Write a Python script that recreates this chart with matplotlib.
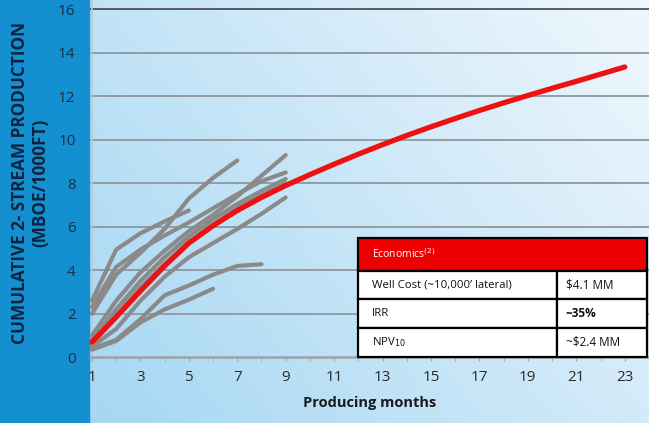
import numpy as np
import matplotlib
matplotlib.use("Agg")
import matplotlib.pyplot as plt
from matplotlib.patches import Rectangle

plt.rcParams["font.family"] = ["Open Sans", "DejaVu Sans"]

# ---------------------------------------------
# data: cumulative 2-stream production, MBOE per 1000 ft
# ---------------------------------------------
type_curve = [0.7, 1.85, 3.05, 4.2, 5.25, 6.05, 6.75, 7.35, 7.9, 8.4, 8.88, 9.34,
              9.78, 10.2, 10.6, 10.98, 11.35, 11.7, 12.04, 12.37, 12.69, 13.02, 13.35]

well_curves = [
    [2.6, 4.95, 5.7, 6.25, 6.75],
    [2.0, 3.8, 4.8, 5.9, 7.3, 8.25, 9.05],
    [2.3, 4.15, 4.95, 5.6, 6.2, 6.85, 7.5, 8.1, 8.5],
    [1.0, 2.6, 3.9, 4.9, 5.8, 6.55, 7.4, 8.35, 9.3],
    [0.8, 2.2, 3.5, 4.6, 5.55, 6.35, 7.05, 7.65, 8.2],
    [0.6, 1.9, 3.2, 4.3, 5.3, 6.1, 6.85, 7.45, 8.0],
    [0.5, 1.3, 2.6, 3.7, 4.6, 5.25, 5.9, 6.6, 7.35],
    [0.4, 0.8, 1.75, 2.85, 3.3, 3.8, 4.2, 4.28],
    [0.35, 0.75, 1.6, 2.2, 2.65, 3.15],
]

x_ticks = list(range(1, 24, 2))
y_ticks = list(range(0, 17, 2))

econ_rows = [
    ("Well Cost (~10,000\u2019 lateral)", "$4.1 MM"),
    ("IRR", "~35%"),
    ("NPV$_{10}$", "~$2.4 MM"),
]

# ---------------------------------------------
# figure + background
# ---------------------------------------------
fig = plt.figure(figsize=(6.49, 4.23), dpi=100)

bg = fig.add_axes([0, 0, 1, 1], zorder=0)
gx, gy = np.meshgrid(np.linspace(0, 1, 200), np.linspace(0, 1, 200))
t = np.clip(0.65 * gx + 0.35 * gy, 0, 1)[..., None]
c0 = np.array([0.62, 0.83, 0.95])
c1 = np.array([0.94, 0.97, 0.99])
bg.imshow(c0 * (1 - t) + c1 * t, extent=[0, 1, 0, 1], origin="lower", aspect="auto")
bg.add_patch(Rectangle((0, 0), 89 / 649, 1, color="#1490d0", zorder=2))
bg.set_xlim(0, 1)
bg.set_ylim(0, 1)
bg.axis("off")

ax = fig.add_axes([89.5 / 649, (423 - 357.3) / 423, 559.5 / 649, 357.3 / 423], zorder=1)
ax.patch.set_alpha(0)

# ---------------------------------------------
# grid, axes
# ---------------------------------------------
for y in y_ticks[1:]:
    col = "#4b5155" if y == 16 else "#8e979d"
    ax.axhline(y, color=col, lw=1.3, zorder=1)
ax.axvline(1, color="#b9c9d3", lw=1.2, zorder=1)

for well in well_curves:
    months = np.arange(1, len(well) + 1)
    ax.plot(months, well, color="#8a8a8a", lw=3.0, solid_capstyle="round",
            solid_joinstyle="round", zorder=2)

months = np.arange(1, len(type_curve) + 1)
ax.plot(months, type_curve, color="#ee1111", lw=3.8, solid_capstyle="round",
        solid_joinstyle="round", zorder=3)

ax.set_xlim(0.9, 24)
ax.set_ylim(0, 16.43)
ax.set_xticks(x_ticks)
ax.set_xticks(range(1, 24), minor=True)
ax.set_yticks(y_ticks)

for s in ["top", "right", "left"]:
    ax.spines[s].set_visible(False)
ax.spines["bottom"].set_color("#9aa3a8")
ax.spines["bottom"].set_linewidth(1.8)

ax.tick_params(axis="x", which="both", direction="out", length=3, color="#9aa3a8",
               labelsize=11, labelcolor="#2a2a2a", pad=6)
ax.tick_params(axis="y", length=0, labelsize=11, labelcolor="#1c2e44", pad=10)

ax.set_xlabel("Producing months", fontsize=10.5, fontweight="bold", color="#1a1a1a",
              labelpad=8)
fig.text(0.047, 0.567, "CUMULATIVE 2- STREAM PRODUCTION\n(MBOE/1000FT)", rotation=90,
         ha="center", va="center", fontsize=12.3, fontweight="bold", color="#0c2440",
         linespacing=1.15)

# ---------------------------------------------
# economics box
# ---------------------------------------------
left, mid, right = 0.4804, 0.835, 0.9959
tops = [0.333, 0.2426, 0.163, 0.0829, 0.0]
tr = ax.transAxes

ax.add_patch(Rectangle((left, tops[1]), right - left, tops[0] - tops[1], transform=tr,
                       facecolor="#ee0000", edgecolor="black", lw=1.6, zorder=5,
                       clip_on=False))
ax.text(left + 0.024, (tops[0] + tops[1]) / 2, "Economics$^{(2)}$", transform=tr,
        ha="left", va="center", fontsize=7.5, color="white", zorder=6)

for i, (name, val) in enumerate(econ_rows):
    top, bot = tops[i + 1], tops[i + 2]
    for x0, x1 in [(left, mid), (mid, right)]:
        ax.add_patch(Rectangle((x0, bot), x1 - x0, top - bot, transform=tr,
                               facecolor="white", edgecolor="black", lw=1.6, zorder=5,
                               clip_on=False))
    yc = (top + bot) / 2
    ax.text(left + 0.024, yc, name, transform=tr, ha="left", va="center",
            fontsize=8.2, color="#111111", zorder=6)
    ax.text(mid + 0.016, yc, val, transform=tr, ha="left", va="center", fontsize=8.5,
            color="#111111", fontweight="bold" if name == "IRR" else "normal", zorder=6)

fig.savefig("out.png", dpi=100)
